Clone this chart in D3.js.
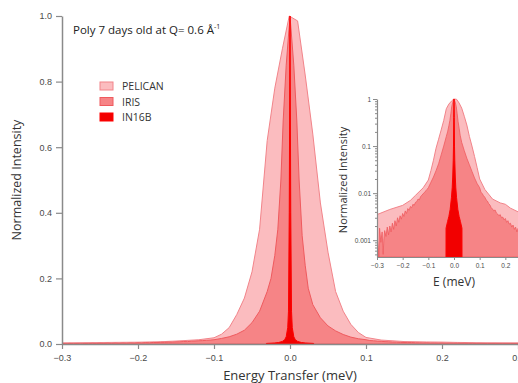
<!DOCTYPE html>
<html>
<head>
<meta charset="utf-8">
<script src="https://cdn.jsdelivr.net/npm/d3@7"></script>
<style>
  body { margin: 0; background: #fff; }
  svg { display: block; font-family: "Open Sans", sans-serif; }
</style>
</head>
<body>
<svg id="chart" width="518" height="383"></svg>
<script>
// series names and colours for the legend
var seriesNames = ["PELICAN", "IRIS", "IN16B"];
var fills = {"PELICAN": "#fbbcbf", "IRIS": "#f68486", "IN16B": "#f20000"};
var strokes = {"PELICAN": "#f2848a", "IRIS": "#ef5a5e", "IN16B": "#ff0000"};

// PELICAN (widest)
var pelicanE = [-0.3, -0.25, -0.2, -0.17, -0.15, -0.12, -0.1, -0.09, -0.08, -0.07, -0.06, -0.05, -0.04, -0.03, -0.02, -0.01, -0.001,
  0.01, 0.02, 0.03, 0.04, 0.05, 0.06, 0.07, 0.08, 0.09, 0.1, 0.12, 0.15, 0.18, 0.2, 0.22, 0.25, 0.3];
var pelicanI = [0.0035, 0.0045, 0.0055, 0.007, 0.009, 0.013, 0.019, 0.03, 0.05, 0.09, 0.14, 0.22, 0.35, 0.62, 0.78, 0.9, 1.0,
  0.985, 0.82, 0.64, 0.43, 0.28, 0.16, 0.1, 0.06, 0.035, 0.02, 0.012, 0.0075, 0.0062, 0.0058, 0.0048, 0.004, 0.0035];

// IRIS (noisy tails)
var irisE = [-0.3, -0.295, -0.293, -0.29, -0.285, -0.28, -0.276, -0.273, -0.27, -0.265, -0.26, -0.255, -0.25, -0.245, -0.24, -0.235,
  -0.23, -0.225, -0.22, -0.215, -0.21, -0.205, -0.2, -0.195, -0.19, -0.185, -0.18, -0.175, -0.17, -0.165, -0.16, -0.155,
  -0.15, -0.145, -0.14, -0.135, -0.13, -0.125, -0.12, -0.115, -0.11, -0.105, -0.1,
  -0.09, -0.08, -0.07, -0.06, -0.05, -0.04, -0.03, -0.025, -0.02, -0.016, -0.012, -0.009, -0.005, 0,
  0.005, 0.009, 0.012, 0.016, 0.02, 0.024, 0.03, 0.04, 0.05, 0.06, 0.07, 0.08, 0.09, 0.1,
  0.105, 0.11, 0.115, 0.12, 0.125, 0.13, 0.135, 0.14, 0.145, 0.15, 0.155, 0.16, 0.165, 0.17, 0.175, 0.18, 0.185,
  0.19, 0.195, 0.2, 0.205, 0.21, 0.215, 0.22, 0.225, 0.23, 0.235, 0.24, 0.245, 0.25, 0.26, 0.27, 0.28, 0.29, 0.3];
var irisI = [0.0012, 0.0007, 0.0004, 0.0018, 0.0009, 0.0015, 0.0005, 0.0011, 0.0016, 0.0012, 0.0019, 0.0013, 0.002, 0.0015, 0.0023, 0.0017,
  0.0026, 0.002, 0.003, 0.0024, 0.0033, 0.0028, 0.0037, 0.0032, 0.0042, 0.0037, 0.0047, 0.0043, 0.0052, 0.0049, 0.0058, 0.0055,
  0.0064, 0.0066, 0.0075, 0.0072, 0.0085, 0.009, 0.0098, 0.0103, 0.0112, 0.012, 0.013,
  0.017, 0.022, 0.03, 0.042, 0.065, 0.1, 0.16, 0.2, 0.27, 0.35, 0.5, 0.68, 0.85, 1.0,
  0.85, 0.68, 0.5, 0.33, 0.24, 0.17, 0.12, 0.08, 0.055, 0.04, 0.029, 0.021, 0.016, 0.013,
  0.0105, 0.0098, 0.0088, 0.0082, 0.0072, 0.0068, 0.006, 0.0056, 0.0049, 0.0046, 0.0042, 0.0044, 0.0038, 0.0036, 0.0033, 0.0035, 0.003,
  0.0031, 0.0027, 0.0029, 0.0024, 0.0026, 0.0022, 0.0023, 0.0019, 0.0021, 0.0017, 0.0019, 0.0015, 0.0018, 0.0014, 0.0016, 0.0012, 0.0014, 0.0011];

// IN16B (narrow)
var in16bE = [-0.0312, -0.031, -0.025, -0.02, -0.015, -0.01, -0.007, -0.005, -0.003, -0.002, -0.001, 0,
  0.001, 0.002, 0.003, 0.005, 0.007, 0.01, 0.015, 0.02, 0.025, 0.031, 0.0312];
var in16bI = [0.0001, 0.0018, 0.0025, 0.0032, 0.0045, 0.008, 0.013, 0.022, 0.05, 0.1, 0.4, 1.0,
  0.4, 0.1, 0.05, 0.022, 0.013, 0.008, 0.0045, 0.0032, 0.0025, 0.0018, 0.0001];

var xTicks = [-0.3, -0.2, -0.1, 0.0, 0.1, 0.2, 0.3];
var yTicks = [0.0, 0.2, 0.4, 0.6, 0.8, 1.0];
var insetXTicks = [-0.3, -0.2, -0.1, 0.0, 0.1, 0.2];
var insetYTicks = [1, 0.1, 0.01, 0.001];

function toPoints(es, is) {
  return es.map(function(e, i) { return {e: e, v: is[i]}; });
}
var series = {
  "PELICAN": toPoints(pelicanE, pelicanI),
  "IRIS": toPoints(irisE, irisI),
  "IN16B": toPoints(in16bE, in16bI)
};

var svg = d3.select("#chart");
var axisColor = "#8a8a8a";
var textColor = "#4a4a4a";

// main plot
var x = d3.scaleLinear().domain([-0.3, 0.3]).range([62, 518]);
var y = d3.scaleLinear().domain([0, 1]).range([344, 16]);

svg.append("clipPath").attr("id", "mainclip")
  .append("rect").attr("x", 62).attr("y", 0).attr("width", 456).attr("height", 344);

var main = svg.append("g").attr("clip-path", "url(#mainclip)");
seriesNames.forEach(function(name) {
  var area = d3.area()
    .x(function(d) { return x(d.e); })
    .y0(y(0))
    .y1(function(d) { return y(d.v); });
  main.append("path")
    .datum(series[name])
    .attr("d", area)
    .attr("fill", fills[name])
    .attr("stroke", strokes[name])
    .attr("stroke-width", 1)
    .attr("stroke-linejoin", "round");
});

var xAxis = svg.append("g")
  .attr("transform", "translate(0," + 344 + ")")
  .call(d3.axisBottom(x).tickValues(xTicks).tickFormat(d3.format(".1f")).tickSize(5).tickSizeOuter(0));
var yAxis = svg.append("g")
  .attr("transform", "translate(" + 62 + ",0)")
  .call(d3.axisLeft(y).tickValues(yTicks).tickFormat(d3.format(".1f")).tickSize(6).tickSizeOuter(0));

[xAxis, yAxis].forEach(function(a) {
  a.select(".domain").attr("stroke", axisColor).attr("stroke-width", 1.5);
  a.selectAll(".tick line").attr("stroke", axisColor).attr("stroke-width", 1.2);
  a.selectAll(".tick text").attr("fill", textColor).attr("font-size", 9);
});
xAxis.selectAll(".tick text").attr("dy", "0.95em");
yAxis.selectAll(".tick text").attr("x", -10);

svg.append("text")
  .attr("x", 290).attr("y", 380)
  .attr("text-anchor", "middle")
  .attr("font-size", 13)
  .attr("fill", "#333")
  .text("Energy Transfer (meV)");

svg.append("text")
  .attr("transform", "translate(21,180) rotate(-90)")
  .attr("text-anchor", "middle")
  .attr("font-size", 12.5)
  .attr("fill", "#333")
  .text("Normalized Intensity");

var title = svg.append("text")
  .attr("x", 73).attr("y", 34)
  .attr("font-size", 11.5)
  .attr("fill", "#222")
  .text("Poly 7 days old at Q= 0.6 Å");
title.append("tspan").attr("dy", -5).attr("font-size", 7).text("-1");

// legend
var legend = svg.append("g");
seriesNames.forEach(function(name, i) {
  legend.append("rect")
    .attr("x", 100).attr("y", 82 + i * 15.5)
    .attr("width", 13).attr("height", 8)
    .attr("fill", fills[name])
    .attr("stroke", strokes[name]);
  legend.append("text")
    .attr("x", 122).attr("y", 90 + i * 15.5)
    .attr("font-size", 10.5)
    .attr("fill", "#333")
    .text(name);
});

// inset (log scale)
var xi = d3.scaleLinear().domain([-0.3, 0.3]).range([377, 531]);
var yi = d3.scaleLog().domain([0.00044, 1]).range([257, 99]).clamp(true);

svg.append("clipPath").attr("id", "insetclip")
  .append("rect").attr("x", 377).attr("y", 90).attr("width", 160).attr("height", 167);

var inset = svg.append("g").attr("clip-path", "url(#insetclip)");
seriesNames.forEach(function(name) {
  var area = d3.area()
    .x(function(d) { return xi(d.e); })
    .y0(257)
    .y1(function(d) { return yi(d.v); });
  inset.append("path")
    .datum(series[name])
    .attr("d", area)
    .attr("fill", fills[name])
    .attr("stroke", strokes[name])
    .attr("stroke-width", name == "IRIS" ? 0.8 : 1)
    .attr("stroke-linejoin", "round");
});

var minorTicks = [];
[0.0001, 0.001, 0.01, 0.1].forEach(function(dec) {
  for (var k = 2; k <= 9; k++) {
    if (dec * k >= 0.00044) minorTicks.push(dec * k);
  }
});

var ixAxis = svg.append("g")
  .attr("transform", "translate(0,257)")
  .call(d3.axisBottom(xi).tickValues(insetXTicks).tickFormat(d3.format(".1f")).tickSize(3).tickSizeOuter(0));
var iyAxis = svg.append("g")
  .attr("transform", "translate(377,0)")
  .call(d3.axisLeft(yi).tickValues(insetYTicks).tickFormat(function(d) { return d3.format("~g")(d); }).tickSize(4).tickSizeOuter(0));
svg.append("g")
  .attr("transform", "translate(377,0)")
  .call(d3.axisLeft(yi).tickValues(minorTicks).tickFormat("").tickSize(2).tickSizeOuter(0))
  .call(function(g) {
    g.select(".domain").remove();
    g.selectAll(".tick line").attr("stroke", axisColor);
  });

[ixAxis, iyAxis].forEach(function(a) {
  a.select(".domain").attr("stroke", axisColor).attr("stroke-width", 1.2);
  a.selectAll(".tick line").attr("stroke", axisColor);
  a.selectAll(".tick text").attr("fill", textColor).attr("font-size", 6.5);
});
ixAxis.selectAll(".tick text").attr("y", 6);
iyAxis.selectAll(".tick text").attr("x", -6);

svg.append("text")
  .attr("x", 454).attr("y", 286)
  .attr("text-anchor", "middle")
  .attr("font-size", 12)
  .attr("fill", "#333")
  .text("E (meV)");

svg.append("text")
  .attr("transform", "translate(347,180) rotate(-90)")
  .attr("text-anchor", "middle")
  .attr("font-size", 11)
  .attr("fill", "#333")
  .text("Normalized Intensity");
</script>
</body>
</html>
